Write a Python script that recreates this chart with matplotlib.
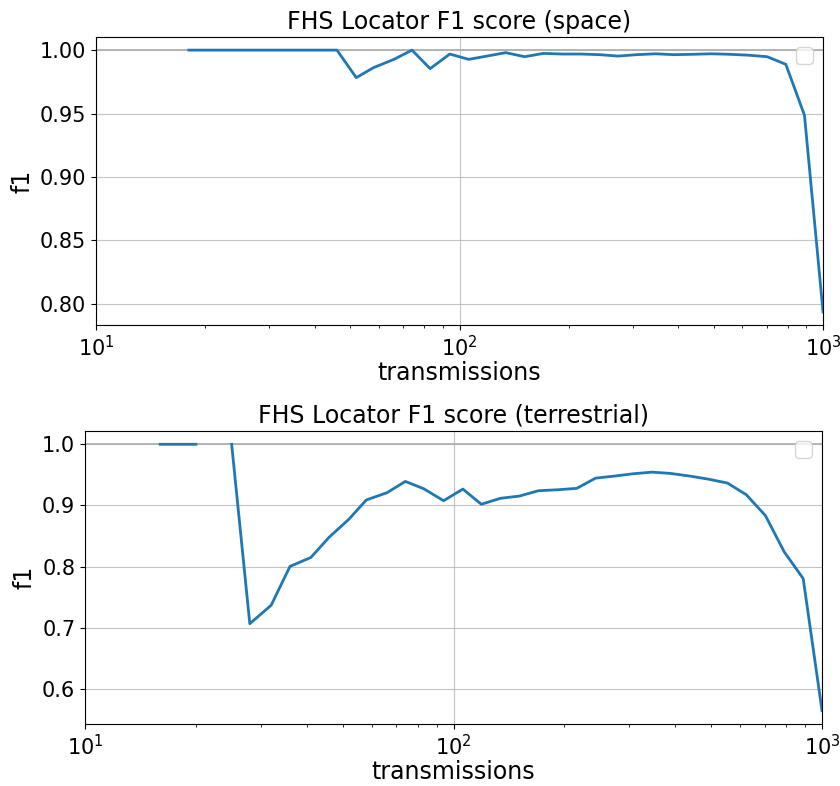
import numpy as np
import matplotlib
matplotlib.use('Agg')
import matplotlib.pyplot as plt

plt.rcParams['font.size'] = 15

# transmissions (log spaced) and f1 scores
transmissions = [10, 11, 12, 14, 16, 18, 20, 22, 25, 28, 32, 36, 41, 46, 52, 58, 66, 74, 83, 94,
                 106, 119, 134, 151, 170, 192, 216, 243, 273, 307, 346, 389, 438, 492, 554, 623,
                 702, 790, 889, 1000]

f1_space = [np.nan, np.nan, np.nan, np.nan, np.nan, 1.0, 1.0, 1.0, 1.0, 1.0,
            1.0, 1.0, 1.0, 1.0, 0.9783, 0.9862, 0.9927, 1.0, 0.9854, 0.9969,
            0.9927, 0.9953, 0.9980, 0.9948, 0.9974, 0.9969, 0.9969, 0.9964, 0.9953, 0.9964,
            0.9971, 0.9964, 0.9967, 0.9971, 0.9967, 0.9960, 0.9948, 0.9888, 0.9487, 0.7937]

f1_terrestrial = [np.nan, np.nan, np.nan, np.nan, 1.0, 1.0, 1.0, np.nan, 1.0, 0.7068,
                  0.737, 0.8005, 0.815, 0.8483, 0.8775, 0.909, 0.9209, 0.9393, 0.9274, 0.9078,
                  0.9268, 0.902, 0.9117, 0.9154, 0.9241, 0.9257, 0.928, 0.9447, 0.948, 0.9518,
                  0.9545, 0.9523, 0.948, 0.943, 0.9366, 0.9176, 0.8835, 0.824, 0.7805, 0.5647]

fig, axes = plt.subplots(2, 1, figsize=(8.4, 7.86), dpi=100)
positions = [[0.1143, 0.5865, 0.8655, 0.3664], [0.1012, 0.0789, 0.8774, 0.3728]]
for ax, f1, name, pos in zip(axes, [f1_space, f1_terrestrial], ['space', 'terrestrial'], positions):
    ax.set_position(pos)
    ax.axhline(1.0, color='#aaaaaa', linewidth=1.2, zorder=1)
    ax.plot(transmissions, f1, color='tab:blue', linewidth=2, zorder=3)
    ax.set_xscale('log')
    ax.set_xlim(10, 1000)
    ax.grid(True, color='#b0b0b0', alpha=0.75)
    ax.set_xlabel('transmissions', fontsize=17, labelpad=1)
    ax.set_ylabel('f1', fontsize=17)
    ax.set_title('FHS Locator F1 score (' + name + ')', fontsize=17)
    ax.legend(handles=[], loc='upper right')

fig.savefig('out.png')
